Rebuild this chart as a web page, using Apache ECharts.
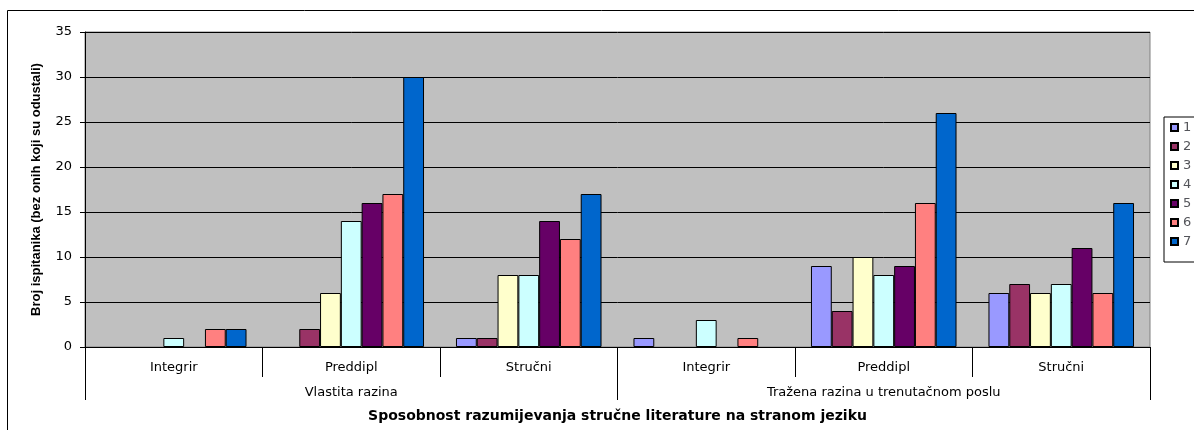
<!DOCTYPE html>
<html><head><meta charset="utf-8">
<script src="https://cdn.jsdelivr.net/npm/echarts@6/dist/echarts.min.js"></script>
<style>html,body{margin:0;padding:0;background:#fff}#c{width:1194px;height:430px}</style>
</head><body><div id="c"></div>
<script>
const subCategories = ['Integrir','Preddipl','Stručni','Integrir','Preddipl','Stručni'];
const groupCategories = ['Vlastita razina','Tražena razina u trenutačnom poslu'];
const seriesNames = ['1','2','3','4','5','6','7'];
const s1 = [0,0,1,1,9,6];
const s2 = [0,2,1,0,4,7];
const s3 = [0,6,8,0,10,6];
const s4 = [1,14,8,3,8,7];
const s5 = [0,16,14,0,9,11];
const s6 = [2,17,12,1,16,6];
const s7 = [2,30,17,0,26,16];
const yTicks = [0,5,10,15,20,25,30,35];
const colors = ['#9999FF','#993366','#FFFFCC','#CCFFFF','#660066','#FF8080','#0066CC'];
const allSeries = [s1,s2,s3,s4,s5,s6,s7];

const font = 'DejaVu Sans, Liberation Sans, Arial, sans-serif';
const fontA = 'Liberation Sans, Arial, sans-serif';
const chart = echarts.init(document.getElementById('c'));
chart.setOption({
  animation:false,
  textStyle:{fontFamily:font,color:'#000'},
  color:colors,
  graphic:[{type:'rect',shape:{x:7.5,y:10.5,width:1200,height:440},style:{fill:'none',stroke:'#000',lineWidth:1},z:-1}],
  grid:{left:85,right:44,top:32,bottom:83,show:true,backgroundColor:'#C0C0C0',borderColor:'#808080',borderWidth:1},
  legend:{orient:'vertical',left:1164,top:117,icon:'rect',itemWidth:7,itemHeight:7,itemGap:6,
    padding:[4,20,14,6],borderColor:'#000',borderWidth:1,backgroundColor:'#fff',
    textStyle:{fontSize:13,fontFamily:font,padding:[0,0,0,0]},data:seriesNames},
  xAxis:[
    {type:'category',data:subCategories,position:'bottom',
     axisLine:{show:true,lineStyle:{color:'#000',width:1}},
     axisTick:{show:true,length:30,lineStyle:{color:'#000'}},
     axisLabel:{margin:14,fontSize:13,color:'#000',fontFamily:font}},
    {type:'category',data:groupCategories,position:'bottom',
     axisLine:{show:false},
     axisTick:{show:true,length:53,lineStyle:{color:'#000'}},
     axisLabel:{margin:39,fontSize:13,color:'#000',fontFamily:font},
     name:'Sposobnost razumijevanja stručne literature na stranom jeziku',
     nameLocation:'middle',nameGap:62,
     nameTextStyle:{fontWeight:'bold',fontSize:14,color:'#000',fontFamily:font}}
  ],
  yAxis:{type:'value',min:yTicks[0],max:yTicks[yTicks.length-1],interval:5,
    name:'Broj ispitanika (bez onih koji su odustali)',nameLocation:'middle',nameGap:42,
    nameTextStyle:{fontWeight:'bold',fontSize:13,color:'#000',fontFamily:fontA},
    axisLine:{show:true,lineStyle:{color:'#000'}},
    axisTick:{show:true,length:5,lineStyle:{color:'#000'}},
    axisLabel:{fontSize:13,color:'#000',margin:13,fontFamily:font},
    splitLine:{lineStyle:{color:'#000',width:1}}},
  series: allSeries.map((d,i)=>({
    name:seriesNames[i],type:'bar',data:d.map(v=>v===0?null:v),xAxisIndex:0,
    barGap:'0%',barCategoryGap:'18%',
    itemStyle:{color:colors[i],borderColor:'#000',borderWidth:1}
  }))
});
</script></body></html>
